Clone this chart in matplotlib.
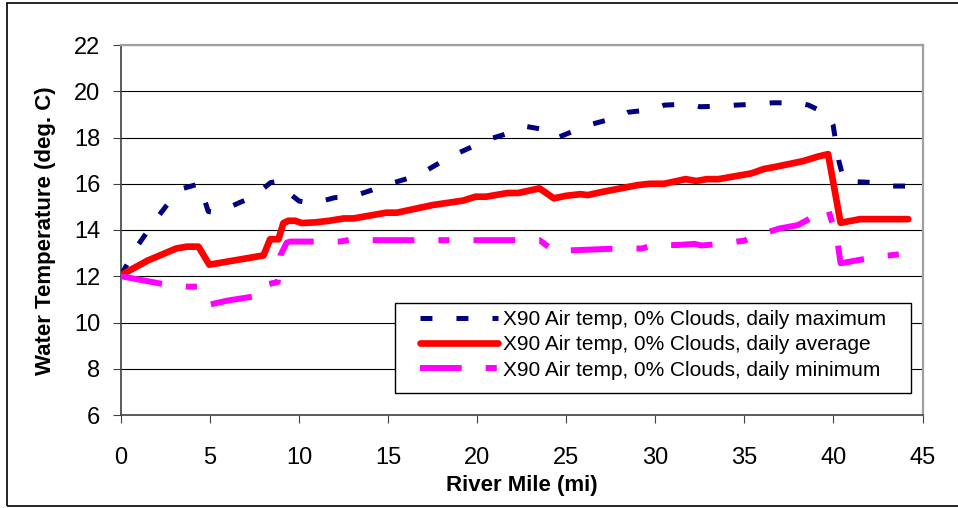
import matplotlib
matplotlib.use("Agg")
import matplotlib.pyplot as plt
from matplotlib.patches import Rectangle

plt.rcParams['font.family'] = ['Liberation Sans', 'DejaVu Sans']
plt.rcParams['lines.scale_dashes'] = False

# river mile / water temperature
avg_mile = [0, 1.5, 3.1, 3.7, 4.35, 4.96, 8.0, 8.37, 8.84, 9.12, 9.4, 9.78, 10.15,
            10.9, 11.7, 12.5, 13.05, 14.9, 15.5, 17.5, 19.2, 19.9, 20.5, 21.7, 22.3,
            23.5, 24.3, 25.0, 25.8, 26.2, 27.1, 29.0, 29.7, 30.5, 31.7, 32.3, 32.9,
            33.55, 35.4, 36.1, 36.8, 38.3, 39.1, 39.7, 40.4, 41.5, 44.2]
avg_temp = [12.05, 12.68, 13.2, 13.28, 13.28, 12.5, 12.9, 13.6, 13.6, 14.3, 14.4, 14.4,
            14.3, 14.33, 14.4, 14.5, 14.5, 14.75, 14.75, 15.08, 15.27, 15.44, 15.44,
            15.6, 15.6, 15.8, 15.37, 15.48, 15.55, 15.51, 15.66, 15.94, 16.0, 16.0,
            16.2, 16.12, 16.2, 16.2, 16.45, 16.64, 16.74, 16.98, 17.17, 17.28, 14.31,
            14.47, 14.47]

max_mile = [0, 1.0, 2.0, 2.7, 3.5, 4.4, 4.9, 5.4, 6.7, 7.4, 8.4, 8.8, 9.1, 10.0, 10.8,
            12.0, 13.0, 14.1, 14.7, 16.1, 16.8, 18.1, 18.8, 20.2, 20.8, 22.2, 22.8,
            23.7, 24.4, 25.8, 26.4, 27.85, 28.45, 29.9, 30.5, 31.96, 32.5, 33.9, 34.5,
            35.9, 36.55, 38.05, 38.6, 39.7, 39.98, 40.3, 40.6, 41.2, 42.6, 43.2, 44.3]
max_temp = [12.05, 13.4, 14.5, 15.2, 15.8, 16.0, 14.8, 14.75, 15.2, 15.42, 16.05, 16.1,
            15.8, 15.25, 15.15, 15.4, 15.45, 15.73, 15.9, 16.23, 16.42, 17.0, 17.28,
            17.77, 17.96, 18.29, 18.47, 18.35, 17.96, 18.4, 18.57, 18.87, 19.09, 19.22,
            19.4, 19.45, 19.33, 19.36, 19.4, 19.45, 19.5, 19.5, 19.4, 19.0, 18.54, 17.0,
            16.09, 16.09, 16.04, 15.9, 15.9]

min_mile = [0, 2.38, 3.75, 4.4, 5.0, 6.0, 7.4, 7.9, 8.2, 8.8, 8.95, 9.3, 9.5, 10.9,
            12.3, 12.9, 14.3, 22.3, 23.5, 24.3, 25.6, 27.9, 29.25, 29.9, 31.25, 32.2,
            32.6, 33.65, 35.0, 35.6, 37.0, 38.0, 39.4, 39.7, 40.2, 40.4, 42.5, 44.2]
min_temp = [12.0, 11.66, 11.55, 11.55, 10.78, 10.95, 11.12, 11.2, 11.65, 11.75, 12.9,
            13.45, 13.5, 13.5, 13.5, 13.58, 13.56, 13.56, 13.56, 13.1, 13.13, 13.2,
            13.2, 13.35, 13.35, 13.4, 13.33, 13.4, 13.54, 13.74, 14.07, 14.21, 14.79,
            14.9, 13.64, 12.56, 12.85, 12.99]

x_ticks = [0, 5, 10, 15, 20, 25, 30, 35, 40, 45]
y_ticks = [6, 8, 10, 12, 14, 16, 18, 20, 22]

labels = ["X90 Air temp, 0% Clouds, daily maximum",
          "X90 Air temp, 0% Clouds, daily average",
          "X90 Air temp, 0% Clouds, daily minimum"]

W, H = 958, 508
fig = plt.figure(figsize=(W / 100, H / 100), dpi=100)
ax = fig.add_axes([121 / W, 1 - 415 / H, (922.5 - 121) / W, (415 - 45) / H])

ax.plot(max_mile, max_temp, color="#000080", lw=3.6, ls=(0, (8.6, 17.3)),
        label=labels[0], zorder=3)
ax.plot(avg_mile, avg_temp, color="#ff0000", lw=4.8, solid_capstyle="round",
        solid_joinstyle="round", label=labels[1], zorder=3)
ax.plot(min_mile, min_temp, color="#ff00ff", lw=4.3,
        ls=(0, (30, 17.3, 8, 17.3)), label=labels[2], zorder=3)

ax.set_xlim(0, 45)
ax.set_ylim(6, 22)
ax.set_xticks(x_ticks)
ax.set_yticks(y_ticks)
ax.yaxis.grid(True, color="black", lw=0.8)
ax.set_axisbelow(True)

for side in ("left", "bottom"):
    ax.spines[side].set_color("#404040")
    ax.spines[side].set_linewidth(1.2)
for side in ("top", "right"):
    ax.spines[side].set_color("#a0a0a0")
    ax.spines[side].set_linewidth(1.6)

ax.tick_params(axis="both", direction="out", length=5.8, width=0.8,
               color="#404040", labelsize=17)
ax.tick_params(axis="y", pad=9)
ax.tick_params(axis="x", pad=17)

fig.text(46 / W, 1 - 231 / H, "Water Temperature (deg. C)", rotation=90,
         ha="center", va="center", fontsize=16, fontweight="bold")
fig.text(521.7 / W, 1 - 485 / H, "River Mile (mi)", ha="center", va="center",
         fontsize=16, fontweight="bold")

# legend box
box = Rectangle((394.7 / W, 1 - 392.7 / H), (910.7 - 394.7) / W, (392.7 - 303.3) / H,
                transform=fig.transFigure, facecolor="white", edgecolor="black",
                lw=1.0, zorder=4, clip_on=False)
ax.add_patch(box)
leg = ax.legend(loc="center", bbox_to_anchor=((394.7 + 910.7) / 2 / W, 1 - 345 / H),
                bbox_transform=fig.transFigure, frameon=False, fontsize=15,
                handlelength=3.75, handletextpad=0.24, labelspacing=0.3,
                borderpad=0, borderaxespad=0)
leg.set_zorder(5)

# outer chart frame
fig.add_artist(Rectangle((7 / W, 1 - 506 / H), 1.2, (506 - 3) / H,
                         transform=fig.transFigure, facecolor="none",
                         edgecolor="black", lw=1.2))

fig.savefig("out.png", dpi=100)
